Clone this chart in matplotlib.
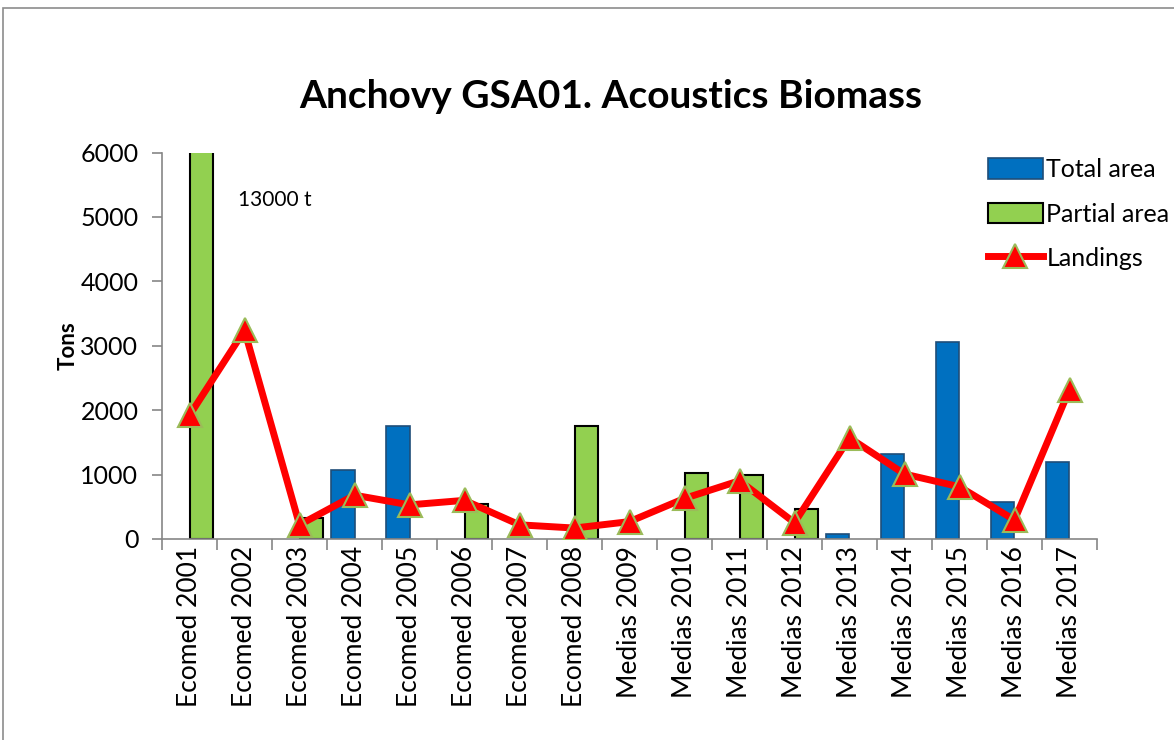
import numpy as np
import matplotlib
matplotlib.use('Agg')
import matplotlib.pyplot as plt
from matplotlib.patches import Rectangle

plt.rcParams['font.family'] = ['Lato', 'DejaVu Sans']

nan = np.nan
CATEGORIES = ['Ecomed 2001', 'Ecomed 2002', 'Ecomed 2003', 'Ecomed 2004', 'Ecomed 2005',
              'Ecomed 2006', 'Ecomed 2007', 'Ecomed 2008', 'Medias 2009', 'Medias 2010',
              'Medias 2011', 'Medias 2012', 'Medias 2013', 'Medias 2014', 'Medias 2015',
              'Medias 2016', 'Medias 2017']
TOTAL_AREA = [nan, nan, nan, 1070, 1757, nan, nan, nan, nan, nan, nan, nan, 72, 1318, 3054, 579, 1199]
PARTIAL_AREA = [13000, nan, 320, nan, nan, 540, nan, 1757, nan, 1018, 992, 460, nan, nan, nan, nan, nan]
LANDINGS = [1920, 3240, 220, 680, 530, 600, 220, 170, 270, 630, 905, 253, 1571, 1008, 811, 295, 2320]
Y_TICKS = [0, 1000, 2000, 3000, 4000, 5000, 6000]

fig = plt.figure(figsize=(11.74, 7.40), dpi=100)
# outer chart border
fig.patches.append(Rectangle((3 / 1174, -0.01), 1.0, 1 - 8 / 740 + 0.01, transform=fig.transFigure,
                             fill=False, edgecolor='#8c8c8c', linewidth=1.2))

ax = fig.add_axes([162 / 1174, 1 - 539 / 740, (1097 - 162) / 1174, (539 - 152.5) / 740])
x = np.arange(len(CATEGORIES))
w = 0.42

b1 = ax.bar(x - w / 2, TOTAL_AREA, width=w, color='#0070C0', edgecolor='#1F4E79', linewidth=1.2,
            label='Total area', zorder=2)
b2 = ax.bar(x + w / 2, PARTIAL_AREA, width=w, color='#92D050', edgecolor='black', linewidth=1.5,
            label='Partial area', zorder=2)
l1, = ax.plot(x, LANDINGS, color='#FF0000', linewidth=5, marker='^', markersize=17,
              markerfacecolor='#FF0000', markeredgecolor='#9BBB59', markeredgewidth=1.5,
              label='Landings', zorder=3)

ax.set_xlim(-0.5, len(CATEGORIES) - 0.5)
ax.set_ylim(0, 6000)
ax.set_yticks(Y_TICKS)
ax.set_yticklabels([str(v) for v in Y_TICKS], fontsize=18)
ax.set_xticks(x)
ax.set_xticklabels(CATEGORIES, rotation=90, fontsize=19)
ax.set_xticks(np.arange(len(CATEGORIES) + 1) - 0.5, minor=True)
ax.tick_params(axis='x', which='major', length=0, pad=5)
ax.tick_params(axis='x', which='minor', length=8, color='#868686', width=1.2)
ax.tick_params(axis='y', length=7, color='#868686', width=1.2, pad=10)

for s in ['top', 'right']:
    ax.spines[s].set_visible(False)
for s in ['left', 'bottom']:
    ax.spines[s].set_color('#868686')
    ax.spines[s].set_linewidth(1.2)

ax.set_ylabel('Tons', fontsize=16, fontweight='bold', labelpad=1)
ax.text(0.88, 5270, '13000 t', fontsize=15, va='center', ha='left')

fig.text(611 / 1174, 1 - 97 / 740, 'Anchovy GSA01. Acoustics Biomass', fontsize=28,
         fontweight='bold', ha='center', va='center')

ax.legend([b1, b2, l1], ['Total area', 'Partial area', 'Landings'],
          loc='upper left', bbox_to_anchor=(0.883, 0.985), frameon=False, fontsize=18,
          handlelength=2.2, handleheight=0.9, labelspacing=0.85, handletextpad=0.15,
          borderaxespad=0, borderpad=0)

fig.savefig('out.png', dpi=100)
